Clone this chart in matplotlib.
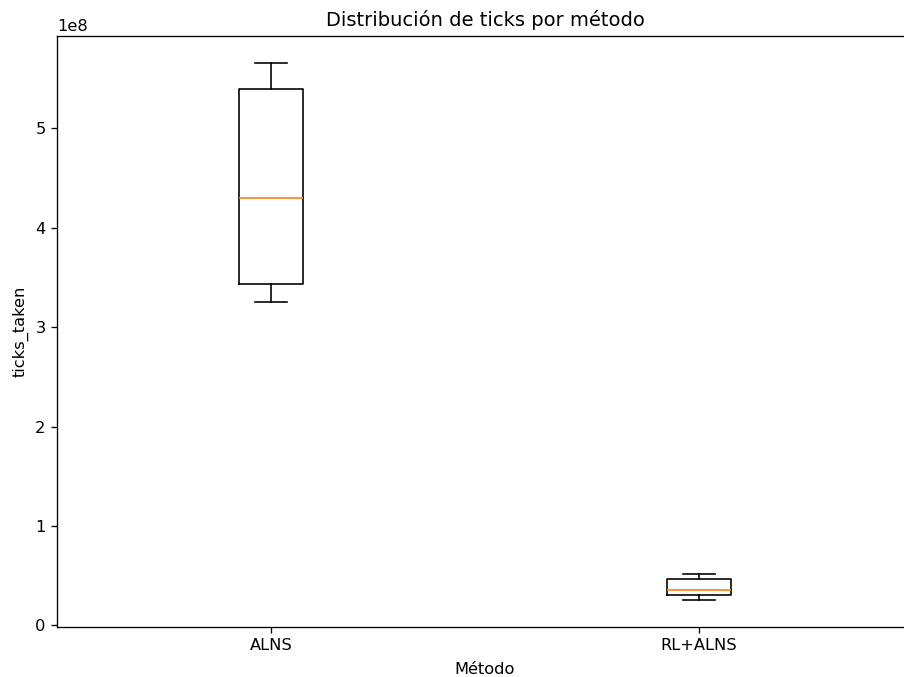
import matplotlib
matplotlib.use("Agg")
import matplotlib.pyplot as plt

# box statistics
metodos = ["ALNS", "RL+ALNS"]
whislo = [3.25e8, 0.255e8]
q1 = [3.44e8, 0.309e8]
med = [4.30e8, 0.352e8]
q3 = [5.40e8, 0.463e8]
whishi = [5.66e8, 0.513e8]

stats = []
for i in range(len(metodos)):
    stats.append({"label": metodos[i], "whislo": whislo[i], "q1": q1[i],
                  "med": med[i], "q3": q3[i], "whishi": whishi[i], "fliers": []})

dpi = 117
fig = plt.figure(figsize=(904 / dpi, 677 / dpi), dpi=dpi)
# axes runs past the right edge, as in the cropped original
ax = fig.add_axes([57 / 904, 50 / 677, 880 / 904, 591 / 677])
ax.bxp(stats, showfliers=False)
ax.set_xlim(0.5, 0.5 + 880 / 428)
ax.set_title("Distribución de ticks por método", x=428 / 880)
ax.set_xlabel("Método")
ax.xaxis.set_label_coords(428 / 880, -0.06)
ax.xaxis.label.set_va("top")
ax.set_ylabel("ticks_taken")

fig.savefig("out.png", dpi=dpi)
